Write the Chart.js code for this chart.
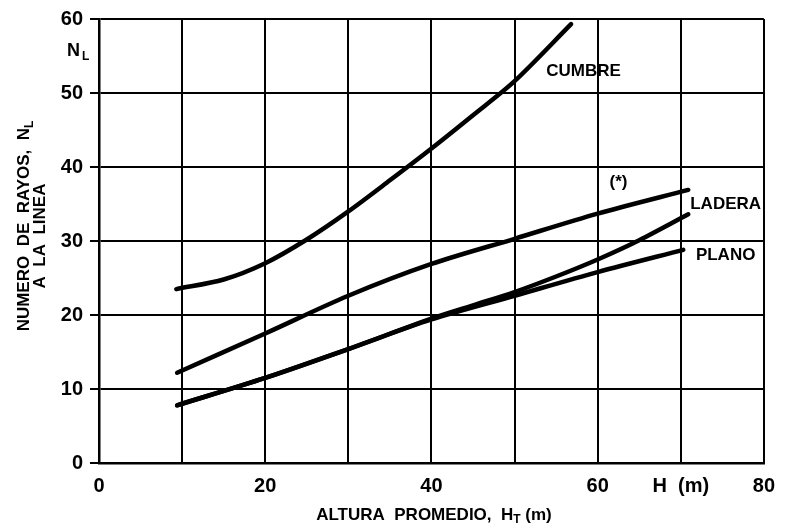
<!DOCTYPE html>
<html>
<head>
<meta charset="utf-8">
<script src="https://cdn.jsdelivr.net/npm/chart.js@4.4.1/dist/chart.umd.min.js"></script>
<style>
  html, body { margin: 0; padding: 0; background: #fff; }
  #wrap { width: 786px; height: 525px; }
</style>
</head>
<body>
<div id="wrap"><canvas id="chart" width="786" height="525"></canvas></div>
<script>
// Número de rayos a la línea vs altura promedio (CUMBRE / (*) / LADERA / PLANO)

const CUMBRE_X = [9.3, 15, 20, 25, 30, 35, 40, 45, 50, 56.8];
const CUMBRE_Y = [23.5, 24.8, 27.0, 30.2, 34.0, 38.2, 42.5, 47.0, 51.6, 59.3];

const STAR_X = [9.4, 20, 30, 40, 50, 60, 70.9];
const STAR_Y = [12.2, 17.5, 22.6, 26.9, 30.3, 33.7, 36.9];

const LADERA_X = [9.4, 20, 30, 40, 45, 50, 55, 60, 65, 70.9];
const LADERA_Y = [7.8, 11.5, 15.4, 19.5, 21.3, 23.1, 25.2, 27.5, 30.1, 33.6];

const PLANO_X = [9.4, 20, 30, 40, 50, 60, 70.3];
const PLANO_Y = [7.8, 11.5, 15.4, 19.4, 22.6, 25.8, 28.8];

const X_LABELS = { 0: "0", 20: "20", 40: "40", 60: "60", 70: "H  (m)", 80: "80" };
const Y_LABELS = [0, 10, 20, 30, 40, 50, 60];

// curve labels: [text, x, y] in data units
const CURVE_LABELS = [
  ["CUMBRE", 58.3, 52.3],
  ["(*)", 62.5, 37.3],
  ["LADERA", 75.4, 34.3],
  ["PLANO", 75.4, 27.5],
];

const FONT = "'Liberation Sans', Arial, sans-serif";
const pts = (xs, ys) => xs.map((x, i) => ({ x, y: ys[i] }));

function series(xs, ys) {
  return {
    data: pts(xs, ys), borderColor: "#000", borderWidth: 4.5, pointRadius: 0,
    tension: 0.3, borderCapStyle: "round", fill: false,
  };
}

const textPlugin = {
  id: "texts",
  afterDraw(chart) {
    const { ctx, scales: { x, y } } = chart;
    ctx.save();
    ctx.fillStyle = "#000";
    ctx.textBaseline = "alphabetic";

    // curve labels
    ctx.font = `bold 17px ${FONT}`;
    ctx.textAlign = "center";
    CURVE_LABELS.forEach(([t, vx, vy]) => {
      ctx.fillText(t, x.getPixelForValue(vx), y.getPixelForValue(vy));
    });

    // N_L near top of y axis
    ctx.textAlign = "left";
    ctx.font = `bold 18px ${FONT}`;
    ctx.fillText("N", 67, 56);
    ctx.font = `bold 12px ${FONT}`;
    ctx.fillText("L", 82, 60);

    // x axis title
    ctx.font = `bold 17px ${FONT}`;
    const a = "ALTURA  PROMEDIO,  H", b = " (m)";
    const wa = ctx.measureText(a).width, wb = ctx.measureText(b).width;
    ctx.font = `bold 12px ${FONT}`;
    const ws = ctx.measureText("T").width;
    let sx = 434 - (wa + ws + wb) / 2;
    ctx.font = `bold 17px ${FONT}`;
    ctx.fillText(a, sx, 520);
    ctx.font = `bold 12px ${FONT}`;
    ctx.fillText("T", sx + wa, 523);
    ctx.font = `bold 17px ${FONT}`;
    ctx.fillText(b, sx + wa + ws, 520);

    // y axis title (rotated)
    ctx.rotate(-Math.PI / 2);
    ctx.font = `bold 17px ${FONT}`;
    const l1 = "NUMERO  DE  RAYOS,  N";
    const w1 = ctx.measureText(l1).width;
    ctx.font = `bold 12px ${FONT}`;
    const wl = ctx.measureText("L").width;
    ctx.font = `bold 17px ${FONT}`;
    const s1 = -226 - (w1 + wl) / 2;
    ctx.fillText(l1, s1, 29);
    ctx.font = `bold 12px ${FONT}`;
    ctx.fillText("L", s1 + w1, 33);
    ctx.font = `bold 17px ${FONT}`;
    ctx.textAlign = "center";
    ctx.fillText("A  LA  LINEA", -236, 45);
    ctx.restore();
  },
};

new Chart(document.getElementById("chart"), {
  type: "line",
  data: {
    datasets: [
      series(CUMBRE_X, CUMBRE_Y),
      series(STAR_X, STAR_Y),
      series(LADERA_X, LADERA_Y),
      series(PLANO_X, PLANO_Y),
    ],
  },
  options: {
    responsive: false,
    animation: false,
    layout: { padding: { top: 15, right: 14, left: 0, bottom: 0 } },
    plugins: { legend: { display: false }, tooltip: { enabled: false } },
    scales: {
      x: {
        type: "linear", min: 0, max: 80,
        afterFit: (s) => { s.height = 62; },
        afterBuildTicks: (s) => { s.ticks = [0, 10, 20, 30, 40, 50, 60, 70, 80].map((v) => ({ value: v })); },
        ticks: {
          autoSkip: false, maxRotation: 0, padding: 11, color: "#000",
          font: { family: FONT, size: 20, weight: "bold" },
          callback: (v) => X_LABELS[v] ?? "",
        },
        grid: { color: "#000", lineWidth: 2, drawTicks: false },
        border: { color: "#000", width: 2.5 },
      },
      y: {
        min: 0, max: 60,
        afterFit: (s) => { s.width = 99; },
        afterBuildTicks: (s) => { s.ticks = Y_LABELS.map((v) => ({ value: v })); },
        ticks: {
          padding: 7, color: "#000",
          font: { family: FONT, size: 20, weight: "bold" },
        },
        grid: { color: "#000", lineWidth: 2, tickLength: 9 },
        border: { color: "#000", width: 2.5 },
      },
    },
  },
  plugins: [textPlugin],
});
</script>
</body>
</html>
